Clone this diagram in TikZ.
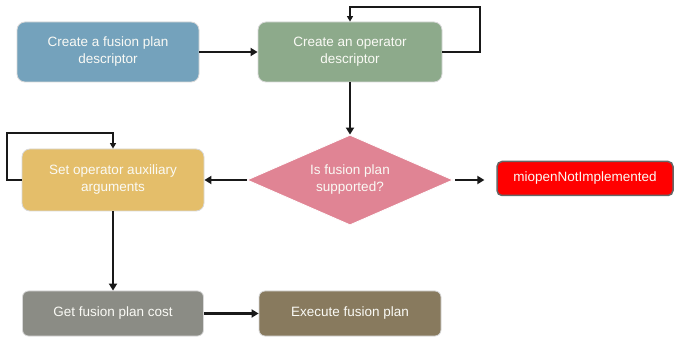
\documentclass[tikz,border=0pt]{standalone}
\usepackage{fontspec}
\setmainfont{Liberation Sans}
\usetikzlibrary{shapes.geometric,arrows.meta}
\definecolor{cblue}{HTML}{74A2BC}
\definecolor{cgreen}{HTML}{8DAA8B}
\definecolor{cpink}{HTML}{E08494}
\definecolor{cyellow}{HTML}{E4BE6A}
\definecolor{cgray}{HTML}{8B8C85}
\definecolor{cbrown}{HTML}{887A5E}
\definecolor{cred}{HTML}{FF0000}
\definecolor{cborder}{HTML}{D8D8D8}
\definecolor{ctext}{HTML}{FAFAF5}
\begin{document}
\begin{tikzpicture}[x=1pt,y=-1pt,
  box/.style={draw=cborder, line width=0.8pt, rounded corners=8pt, inner sep=2pt,
    text=ctext, align=center, font=\fontsize{13.5}{17}\selectfont},
  dia/.style={diamond, aspect=2.29, draw=white, line width=0.8pt, inner sep=0pt, text=ctext, align=center,
    font=\fontsize{13.5}{17}\selectfont},
  arr/.style={line width=2.4pt, draw=black!90, -{Triangle[length=7pt,width=8pt]}},
  loop/.style={line width=1.6pt, draw=black!90, -{Triangle[length=5.5pt,width=6pt]}}]
\useasboundingbox (0,0) rectangle (675,339);
\node[box, fill=cblue, minimum width=182pt, minimum height=60pt] (b1) at (108,52) {Create a fusion plan\\descriptor};
\node[box, fill=cgreen, minimum width=184pt, minimum height=60pt] (b2) at (350,52) {Create an operator\\descriptor};
\node[dia, fill=cpink, minimum width=206pt, minimum height=90pt] (d) at (350,180) {Is fusion plan\\supported?};
\node[box, fill=cred, draw=black!60, line width=1.5pt, rounded corners=5pt, minimum width=176pt, minimum height=34pt] (r) at (585,178.5) {miopenNotImplemented};
\node[box, fill=cyellow, minimum width=182pt, minimum height=62pt] (b4) at (113,180) {Set operator auxiliary\\arguments};
\node[box, fill=cgray, rounded corners=6pt, minimum width=181pt, minimum height=45pt] (b5) at (113,313.5) {Get fusion plan cost};
\node[box, fill=cbrown, rounded corners=6pt, minimum width=182pt, minimum height=45pt] (b6) at (350,313.5) {Execute fusion plan};
\coordinate (l1) at (480,7);
\coordinate (l2) at (7,133);
\draw[arr] (b1) -- (b2);
\draw[arr] (b2) -- (d);
\draw[arr] (d.east) ++(2,0) -- ++(29,0) coordinate (re);
\draw[arr] (d.west) -- (b4.east);
\draw[arr] (b4) -- (b5);
\draw[arr] (b5) -- (b6);
\draw[loop] (b2.east) -| (l1) -| (b2.north);
\draw[loop] (b4.west) -| (l2) -| (b4.north);
\end{tikzpicture}
\end{document}
